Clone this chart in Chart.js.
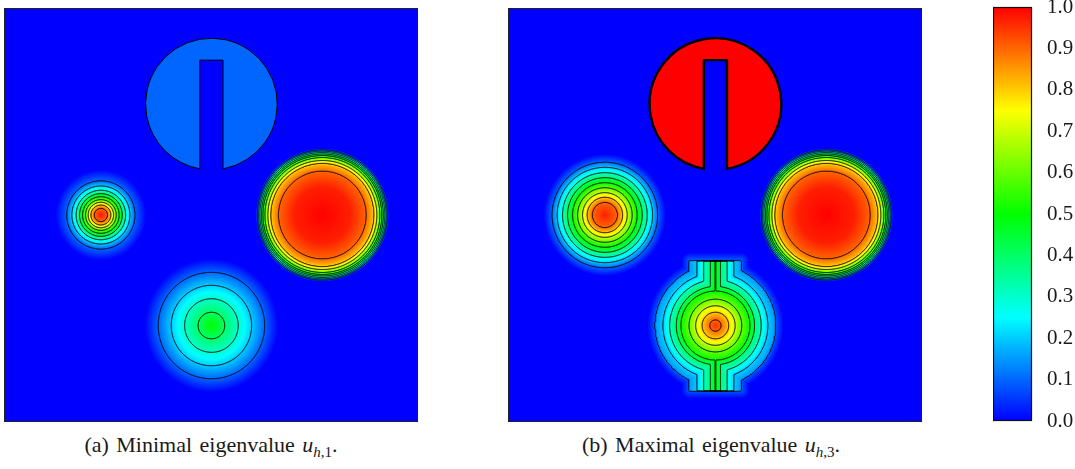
<!DOCTYPE html>
<html>
<head>
<meta charset="utf-8">
<script src="https://cdn.jsdelivr.net/npm/chart.js@4.4.0/dist/chart.umd.min.js"></script>
<style>
  html, body { margin: 0; padding: 0; background: #fff; overflow: hidden; }
  body { width: 1075px; height: 469px; position: relative; }
  canvas { position: absolute; }
  #panelA { left: 4px; top: 8px; }
  #panelB { left: 508px; top: 8px; }
  #cbar { left: 993px; top: -30px; }
  .caption {
    position: absolute; top: 433px; width: 414px; text-align: center;
    font-family: "Liberation Serif", "Times New Roman", serif; font-size: 22px;
    line-height: 24px; color: #1a1a1a; white-space: nowrap; word-spacing: 2px;
  }
  .caption .sub { font-size: 15px; position: relative; top: 5px; }
</style>
</head>
<body>
<canvas id="panelA" width="414" height="414"></canvas>
<canvas id="panelB" width="414" height="414"></canvas>
<canvas id="cbar" width="82" height="530"></canvas>
<div class="caption" style="left:4px">(a) Minimal eigenvalue <i>u</i><span class="sub"><i>h</i>,1</span>.</div>
<div class="caption" style="left:504px">(b) Maximal eigenvalue <i>u</i><span class="sub"><i>h</i>,3</span>.</div>
<script>
// --- DATOS ---
// niveles de contorno
const contourLevels = [0.1, 0.2, 0.3, 0.4, 0.5, 0.6, 0.7, 0.8, 0.9];

// barra de color
const colorbarValues = [0, 0.1, 0.2, 0.3, 0.4, 0.5, 0.6, 0.7, 0.8, 0.9, 1.0];
const colorbarLabels = ["0.0", "0.1", "0.2", "0.3", "0.4", "0.5", "0.6", "0.7", "0.8", "0.9", "1.0"];
const colorStops = [0, 0.25, 0.5, 0.75, 1];
const colorStopRGB = [[0, 0, 255], [0, 255, 255], [0, 255, 0], [255, 255, 0], [255, 0, 0]];

// disco ranurado (centro x, centro y, radio, media ranura, tope ranura) y su valor en cada panel
const slotDisk = [0.501, 0.768, 0.159, 0.028, 0.874];
const slotValue = { a: 0.1, b: 1.0 };

// centros
const humpCenter = [0.234, 0.5];
const diskCenter = [0.769, 0.5];
const lowerCenter = [0.501, 0.233];

// perfiles radiales (radio -> valor)
const humpA_r = [0, 0.0162, 0.0242, 0.0307, 0.0370, 0.0442, 0.0515, 0.0597, 0.0700, 0.0821, 0.109];
const humpA_v = [0.98, 0.9, 0.8, 0.7, 0.6, 0.5, 0.4, 0.3, 0.2, 0.1, 0];
const humpB_r = [0, 0.0307, 0.0428, 0.0539, 0.0659, 0.0780, 0.0901, 0.1022, 0.1152, 0.1273, 0.147];
const humpB_v = [0.97, 0.9, 0.8, 0.7, 0.6, 0.5, 0.4, 0.3, 0.2, 0.1, 0];
const disk_r = [0, 0.0676, 0.1063, 0.1249, 0.1316, 0.1389, 0.1437, 0.1473, 0.1510, 0.1541, 0.1570, 0.1606];
const disk_v = [1.0, 0.97, 0.9, 0.8, 0.7, 0.6, 0.5, 0.4, 0.3, 0.2, 0.1, 0];
const cone_r = [0, 0.0321, 0.0647, 0.0971, 0.1285, 0.1606];
const cone_v = [0.5, 0.4, 0.3, 0.2, 0.1, 0];

// forma recortada (b): radio, media banda, media altura; distancia al borde -> valor
const notchShape = [0.145, 0.0628, 0.157];
const notch_d = [0, 0.0186, 0.0345, 0.0507, 0.0614, 0.0814, 0.0973, 0.1128, 0.1312, 0.1449];
const notch_v = [0.15, 0.2, 0.3, 0.4, 0.5, 0.6, 0.7, 0.8, 0.9, 0.95];
const notchGlow = [0.09, 0.019];

// --- UTILIDADES ---
function perfil(rs, vs, r) {
  if (r <= rs[0]) return vs[0];
  for (let k = 1; k < rs.length; k++) {
    if (r <= rs[k]) {
      const t = (r - rs[k - 1]) / (rs[k] - rs[k - 1]);
      return vs[k - 1] + t * (vs[k] - vs[k - 1]);
    }
  }
  return vs[vs.length - 1];
}

function colorDe(v) {
  v = Math.max(0, Math.min(1, v));
  let k = 1;
  while (k < colorStops.length - 1 && v > colorStops[k]) k++;
  const t = (v - colorStops[k - 1]) / (colorStops[k] - colorStops[k - 1]);
  const c0 = colorStopRGB[k - 1], c1 = colorStopRGB[k];
  return [c0[0] + t * (c1[0] - c0[0]), c0[1] + t * (c1[1] - c0[1]), c0[2] + t * (c1[2] - c0[2])];
}

function enRanura(x, y) {
  const [cx, cy, r, sh, top] = slotDisk;
  const dx = x - cx, dy = y - cy;
  if (dx * dx + dy * dy > r * r) return false;
  if (Math.abs(dx) < sh && y < top) return false;
  return true;
}

function radial(c, rs, vs, x, y) {
  return perfil(rs, vs, Math.hypot(x - c[0], y - c[1]));
}

function recortada(x, y) {
  const [R, w, hh] = notchShape;
  const dx = x - lowerCenter[0], dy = y - lowerCenter[1];
  const ax = Math.abs(dx), ay = Math.abs(dy);
  const r = Math.hypot(dx, dy);
  const dentro = r <= R || (ax <= w && ay <= hh);
  if (!dentro) {
    const dCirc = r - R;
    const dRect = Math.hypot(Math.max(0, ax - w), Math.max(0, ay - hh));
    const dOut = Math.min(dCirc, dRect);
    return Math.max(0, notchGlow[0] * (1 - dOut / notchGlow[1]));
  }
  // distancia al borde: circulo + banda, con esquinas redondeadas
  const yc = Math.sqrt(R * R - w * w);
  const dLine = Math.hypot(ax - w, Math.max(0, yc - ay));
  let dArc = Infinity;
  if (r > 0 && ax * R / r >= w) dArc = R - r;
  const dUnion = Math.min(dArc, dLine);
  const d = Math.min(dUnion, Math.max(R - r, w - ax));
  return perfil(notch_d, notch_v, d);
}

function campoA(x, y) {
  return Math.max(
    radial(humpCenter, humpA_r, humpA_v, x, y),
    radial(diskCenter, disk_r, disk_v, x, y),
    radial(lowerCenter, cone_r, cone_v, x, y)
  );
}

function campoB(x, y) {
  return Math.max(
    radial(humpCenter, humpB_r, humpB_v, x, y),
    radial(diskCenter, disk_r, disk_v, x, y),
    recortada(x, y)
  );
}

// marching squares sobre la malla de pixeles
function contornos(ctx, vals, W, H, x0, y0, level) {
  for (let j = 0; j < H - 1; j++) {
    for (let i = 0; i < W - 1; i++) {
      const a = vals[j * W + i], b = vals[j * W + i + 1];
      const c = vals[(j + 1) * W + i + 1], d = vals[(j + 1) * W + i];
      const idx = (a >= level ? 8 : 0) | (b >= level ? 4 : 0) | (c >= level ? 2 : 0) | (d >= level ? 1 : 0);
      if (idx === 0 || idx === 15) continue;
      const px = x0 + i, py = y0 + j;
      const T = () => [px + (level - a) / (b - a), py];
      const Rt = () => [px + 1, py + (level - b) / (c - b)];
      const B = () => [px + (level - d) / (c - d), py + 1];
      const L = () => [px, py + (level - a) / (d - a)];
      let segs;
      switch (idx) {
        case 1: case 14: segs = [[L(), B()]]; break;
        case 2: case 13: segs = [[B(), Rt()]]; break;
        case 3: case 12: segs = [[L(), Rt()]]; break;
        case 4: case 11: segs = [[T(), Rt()]]; break;
        case 5: segs = [[T(), Rt()], [L(), B()]]; break;
        case 6: case 9: segs = [[T(), B()]]; break;
        case 7: case 8: segs = [[T(), L()]]; break;
        case 10: segs = [[T(), L()], [B(), Rt()]]; break;
      }
      for (const s of segs) {
        ctx.moveTo(s[0][0], s[0][1]);
        ctx.lineTo(s[1][0], s[1][1]);
      }
    }
  }
}

function dibujarCampo(chart, campo, valorRanura, anchoBorde) {
  const { ctx, chartArea: a, scales: { x, y } } = chart;
  const W = Math.round(a.right - a.left), H = Math.round(a.bottom - a.top);
  const vals = new Float32Array(W * H);
  const img = ctx.createImageData(W, H);
  for (let j = 0; j < H; j++) {
    const vy = y.getValueForPixel(a.top + j + 0.5);
    for (let i = 0; i < W; i++) {
      const vx = x.getValueForPixel(a.left + i + 0.5);
      const v = campo(vx, vy);
      vals[j * W + i] = v;
      const col = colorDe(enRanura(vx, vy) ? valorRanura : v);
      const p = (j * W + i) * 4;
      img.data[p] = col[0]; img.data[p + 1] = col[1]; img.data[p + 2] = col[2]; img.data[p + 3] = 255;
    }
  }
  ctx.putImageData(img, a.left, a.top);

  ctx.save();
  ctx.beginPath();
  contourLevels.forEach(l => contornos(ctx, vals, W, H, a.left + 0.5, a.top + 0.5, l));
  ctx.strokeStyle = "#000";
  ctx.lineWidth = 1;
  ctx.stroke();

  // borde del disco ranurado
  const [sx, sy, sr, sh, stop] = slotDisk;
  const cx = x.getPixelForValue(sx), cy = y.getPixelForValue(sy);
  const rp = x.getPixelForValue(sx + sr) - cx;
  const xl = x.getPixelForValue(sx - sh), xr = x.getPixelForValue(sx + sh);
  const yt = y.getPixelForValue(stop);
  const ybl = cy + Math.sqrt(rp * rp - (xl - cx) ** 2);
  const ybr = cy + Math.sqrt(rp * rp - (xr - cx) ** 2);
  const angR = Math.atan2(ybr - cy, xr - cx), angL = Math.atan2(ybl - cy, xl - cx);
  ctx.beginPath();
  ctx.moveTo(xr, ybr);
  ctx.arc(cx, cy, rp, angR, angL, true);
  ctx.lineTo(xl, yt);
  ctx.lineTo(xr, yt);
  ctx.closePath();
  ctx.lineWidth = anchoBorde;
  ctx.lineJoin = "round";
  ctx.stroke();

  // marco
  ctx.lineWidth = 1;
  ctx.strokeStyle = "#222";
  ctx.strokeRect(a.left + 0.5, a.top + 0.5, W - 1, H - 1);
  ctx.restore();
}

function crearPanel(id, campo, valorRanura, anchoBorde) {
  return new Chart(document.getElementById(id), {
    type: "scatter",
    data: { datasets: [] },
    options: {
      responsive: false,
      animation: false,
      events: [],
      layout: { padding: 0 },
      plugins: { legend: { display: false }, tooltip: { enabled: false } },
      scales: {
        x: { type: "linear", min: 0, max: 1, display: false },
        y: { type: "linear", min: 0, max: 1, display: false }
      }
    },
    plugins: [{ id: "campo", afterDraw: chart => dibujarCampo(chart, campo, valorRanura, anchoBorde) }]
  });
}

crearPanel("panelA", campoA, slotValue.a, 1);
crearPanel("panelB", campoB, slotValue.b, 2.4);

// --- BARRA DE COLOR ---
new Chart(document.getElementById("cbar"), {
  type: "scatter",
  data: { datasets: [] },
  options: {
    responsive: false,
    animation: false,
    events: [],
    layout: { padding: { top: 37, bottom: 79, left: 0, right: 0 } },
    plugins: { legend: { display: false }, tooltip: { enabled: false } },
    scales: {
      x: { type: "linear", min: 0, max: 1, display: false },
      y: {
        type: "linear", position: "right", min: 0, max: 1,
        afterFit: s => { s.width = 43; },
        afterBuildTicks: s => { s.ticks = colorbarValues.map(v => ({ value: v })); },
        grid: { display: false },
        border: { display: false },
        ticks: {
          padding: 7,
          color: "#1a1a1a",
          font: { family: "Liberation Serif", size: 21 },
          callback: (v, i) => colorbarLabels[i]
        }
      }
    }
  },
  plugins: [{
    id: "gradiente",
    beforeDraw(chart) {
      const { ctx, chartArea: a, scales: { y } } = chart;
      const g = ctx.createLinearGradient(0, y.getPixelForValue(0), 0, y.getPixelForValue(1));
      colorStops.forEach((s, k) => g.addColorStop(s, `rgb(${colorStopRGB[k].join(",")})`));
      ctx.save();
      ctx.fillStyle = g;
      ctx.fillRect(a.left, a.top, a.right - a.left, a.bottom - a.top);
      ctx.strokeStyle = "#111";
      ctx.lineWidth = 1.2;
      ctx.strokeRect(a.left + 0.5, a.top + 0.5, a.right - a.left - 1, a.bottom - a.top - 1);
      ctx.restore();
    }
  }]
});
</script>
</body>
</html>
